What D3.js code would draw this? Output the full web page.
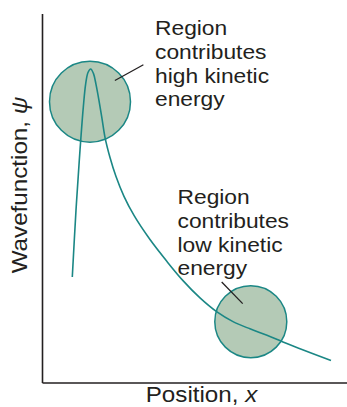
<!DOCTYPE html>
<html>
<head>
<meta charset="utf-8">
<script src="https://cdn.jsdelivr.net/npm/d3@7"></script>
<style>
  html, body { margin: 0; padding: 0; background: #fff; }
  svg { display: block; }
  text { font-family: "Liberation Sans", Arial, Helvetica, sans-serif; fill: #231f20; }
</style>
</head>
<body>
<svg id="chart" width="347" height="407"></svg>
<script>
// ---- data (arbitrary units) ----
const curveX = [10.1, 11.33, 12.43, 12.9, 13.77, 14.57, 15.33, 16.23, 17.17, 18.0, 19.0, 20.0, 21.0, 22.67, 24.67, 27.33, 30.67, 36.0, 41.67, 47.0, 52.67, 58.33, 63.67, 69.33, 75.0, 80.33, 86.0, 96.33];
const curveY = [29.3, 47.8, 61.7, 67.2, 76.5, 83.0, 86.1, 87.1, 85.8, 82.8, 78.3, 73.3, 68.1, 62.5, 57.2, 51.7, 46.4, 39.7, 33.6, 28.3, 23.5, 19.6, 16.9, 14.9, 13.1, 11.25, 9.4, 6.1];

const regionCx = [16.0, 69.6];
const regionCy = [78.0, 16.9];
const regionR  = [13.5, 12.0];

const pointerX1 = [33.8, 59.9];
const pointerY1 = [88.25, 27.9];
const pointerX2 = [24.3, 66.9];
const pointerY2 = [83.9, 21.9];

const annotations = [
  ["Region", "contributes", "high kinetic", "energy"],
  ["Region", "contributes", "low kinetic", "energy"]
];
const xLabel = ["Position, ", "x"];
const yLabel = ["Wavefunction, ", "ψ"];

// ---- layout ----
const svg = d3.select("#chart");
const x = d3.scaleLinear().domain([0, 101.67]).range([42, 347]);
const y = d3.scaleLinear().domain([0, 102.5]).range([382.5, 13.5]);

const teal = "#1b8785";
const fillC = "#b4cab6";
const ink = "#231f20";

// axes (no ticks)
svg.append("g").attr("transform", `translate(0,${y(0)})`)
  .call(d3.axisBottom(x).tickValues([]).tickSizeOuter(0));
svg.append("g").attr("transform", `translate(${x(0)},0)`)
  .call(d3.axisLeft(y).tickValues([]).tickSizeOuter(0));
svg.selectAll(".domain").attr("stroke", ink).attr("stroke-width", 1.6);

// circles
const circles = regionCx.map((c, i) => ({cx: c, cy: regionCy[i], r: regionR[i]}));
svg.append("g").selectAll("circle").data(circles).join("circle")
  .attr("cx", d => x(d.cx))
  .attr("cy", d => y(d.cy))
  .attr("r", d => x(d.r) - x(0))
  .attr("fill", fillC)
  .attr("stroke", teal)
  .attr("stroke-width", 1.5);

// curve
const pts = curveX.map((v, i) => [v, curveY[i]]);
const line = d3.line().x(d => x(d[0])).y(d => y(d[1])).curve(d3.curveCatmullRom.alpha(0.5));
svg.append("path").datum(pts)
  .attr("d", line)
  .attr("fill", "none")
  .attr("stroke", teal)
  .attr("stroke-width", 1.6);

// pointer lines
svg.append("g").selectAll("line").data(pointerX1.map((v, i) => i)).join("line")
  .attr("x1", i => x(pointerX1[i]))
  .attr("y1", i => y(pointerY1[i]))
  .attr("x2", i => x(pointerX2[i]))
  .attr("y2", i => y(pointerY2[i]))
  .attr("stroke", ink)
  .attr("stroke-width", 1.3);

// annotations
const annoPos = [[155, 35], [177.5, 204]];
annotations.forEach((lines, k) => {
  const t = svg.append("text")
    .attr("transform", `translate(${annoPos[k][0]},${annoPos[k][1]}) scale(1.14,1)`)
    .attr("font-size", 20);
  lines.forEach((s, j) => {
    t.append("tspan").attr("x", 0).attr("y", j * 23.8).text(s);
  });
});

// axis labels
const xl = svg.append("text")
  .attr("transform", `translate(201.5,402) scale(1.1,1)`)
  .attr("text-anchor", "middle")
  .attr("font-size", 22);
xl.append("tspan").text(xLabel[0]);
xl.append("tspan").attr("font-style", "italic").text(xLabel[1]);

const yl = svg.append("text")
  .attr("transform", `translate(27,185) rotate(-90) scale(1.1,1)`)
  .attr("text-anchor", "middle")
  .attr("font-size", 22);
yl.append("tspan").text(yLabel[0]);
yl.append("tspan").attr("font-style", "italic").text(yLabel[1]);
</script>
</body>
</html>
